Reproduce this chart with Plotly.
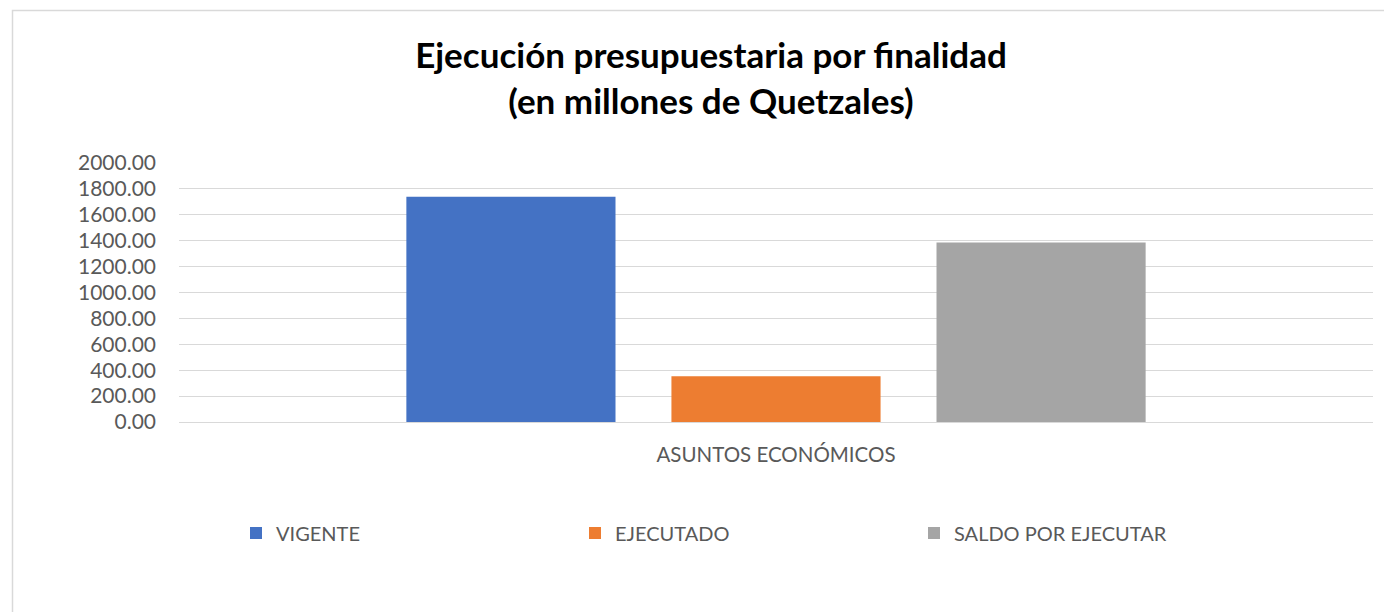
import plotly.graph_objects as go

categories = ["ASUNTOS ECONÓMICOS"]
series_names = ["VIGENTE", "EJECUTADO", "SALDO POR EJECUTAR"]
vigente = [1740.0]
ejecutado = [354.0]
saldo = [1386.0]
colors = ["#4472C4", "#ED7D31", "#A5A5A5"]
y_ticks = [0, 200, 400, 600, 800, 1000, 1200, 1400, 1600, 1800, 2000]

FONT = "Lato, 'Open Sans', sans-serif"
TXT = "#595959"

fig = go.Figure()
for name, vals, c in zip(series_names, [vigente, ejecutado, saldo], colors):
    fig.add_trace(go.Bar(x=categories, y=vals, name=name, marker_color=c,
                         marker_line_width=0))

# page body has an 8px margin; work in page pixels and shift
OFF = 8
W, H = 1392 - OFF, 612 - OFF
L, R, T, B = 179 - OFF, 19, 163 - OFF, 612 - 422
pw, ph = W - L - R, H - T - B

def px(x):
    return (x - OFF - L) / pw

def py(y):
    return (H - B - (y - OFF)) / ph

fig.update_layout(
    width=W, height=H,
    margin=dict(l=L, r=R, t=T, b=B),
    paper_bgcolor="white", plot_bgcolor="white",
    font=dict(family=FONT, color=TXT, size=20),
    title=dict(text="<b>Ejecución presupuestaria por finalidad<br>(en millones de Quetzales)</b>",
               x=(711 - OFF) / W, xanchor="center", xref="container",
               y=1 - (68 - OFF) / H, yanchor="middle", yref="container",
               font=dict(family=FONT, size=35, color="black")),
    barmode="group", bargap=0.334, bargroupgap=0.211,
    showlegend=True,
    legend=dict(orientation="h", x=px(236), xanchor="left", y=py(533), yanchor="middle",
                entrywidth=294, entrywidthmode="pixels", itemwidth=30,
                font=dict(family=FONT, size=20, color=TXT), bgcolor="rgba(0,0,0,0)",
                traceorder="normal"),
    xaxis=dict(showgrid=False, showline=False, ticks="", ticklabelstandoff=18,
               tickfont=dict(family=FONT, size=20.5, color=TXT)),
    yaxis=dict(range=[0, 2000], tickvals=y_ticks, tickformat=".2f",
               showgrid=True, gridcolor="#D9D9D9", gridwidth=1.3,
               zeroline=True, zerolinecolor="#D9D9D9", zerolinewidth=1.3,
               showline=False, ticks="", ticklabelstandoff=22,
               tickfont=dict(family=FONT, size=21, color=TXT)),
    shapes=[dict(type="rect", xref="paper", yref="paper",
                 x0=px(12.5), x1=px(1390), y0=py(640), y1=py(10.5),
                 line=dict(color="#D9D9D9", width=1.5), fillcolor="rgba(0,0,0,0)",
                 layer="below")],
)

fig.write_html("out.html")
